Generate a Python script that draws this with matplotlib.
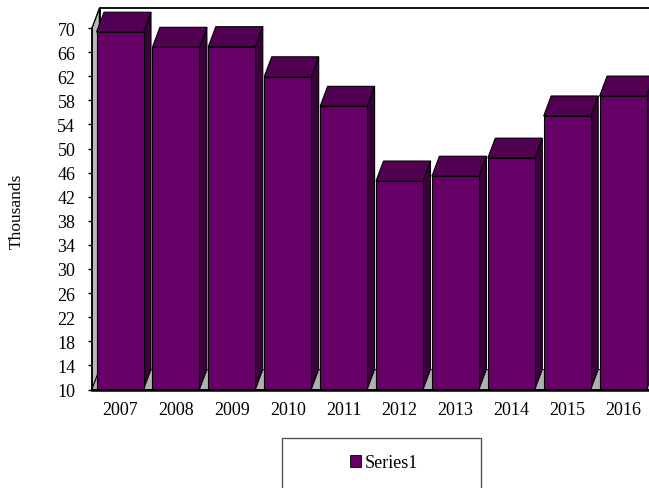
import matplotlib
matplotlib.use("Agg")
import matplotlib.pyplot as plt
from matplotlib.patches import Patch, Rectangle

plt.rcParams['font.family'] = ['Liberation Serif', 'DejaVu Serif']

years = ["2007", "2008", "2009", "2010", "2011", "2012", "2013", "2014", "2015", "2016"]
values = [69.3, 66.8, 66.9, 61.9, 57.0, 44.6, 45.4, 48.4, 55.4, 58.7]
yticks = list(range(10, 71, 4))
series_name = "Series1"

front_col = "#660066"
top_col = "#520052"
side_col = "#3b003b"
wall_col = "#b8b8b8"

W, H = 649, 489
fig = plt.figure(figsize=(W / 100, H / 100), dpi=100)
ax_l, ax_r, ax_t, ax_b = 92, 649, 29, 390.5
ax = fig.add_axes([ax_l / W, (H - ax_b) / H, (ax_r - ax_l) / W, (ax_b - ax_t) / H])

# pixel scale of the axes, used to turn the 3d depth into data units
cat_px = 55.9
xmin = -(120 - ax_l) / cat_px
xmax = xmin + (ax_r - ax_l) / cat_px
ymin, ymax = 10, 70
val_px = (ax_b - ax_t) / (ymax - ymin)
ax.set_xlim(xmin, xmax)
ax.set_ylim(ymin, ymax)

ddx = 7.5 / cat_px
ddy = 20 / val_px
bw = 47 / cat_px

# back wall, left wall and floor
ax.fill([xmin + ddx, xmax + 1, xmax + 1, xmin + ddx],
        [ymin + ddy, ymin + ddy, ymax + ddy, ymax + ddy],
        facecolor="white", edgecolor="black", lw=1.3, clip_on=False, zorder=1)
ax.fill([xmin, xmin, xmin + ddx, xmin + ddx],
        [ymin, ymax, ymax + ddy, ymin + ddy],
        facecolor=wall_col, edgecolor="black", lw=1.0, clip_on=False, zorder=1.5)
ax.fill([xmin, xmax + 1, xmax + 1 + ddx, xmin + ddx],
        [ymin, ymin, ymin + ddy, ymin + ddy],
        facecolor="#b0b0b0", edgecolor="black", lw=0.6, clip_on=False, zorder=1.5)

# tops and right-hand sides of the columns
for i, v in enumerate(values):
    l, r = i - bw / 2, i + bw / 2
    ax.fill([r, r, r + ddx, r + ddx], [ymin, v, v + ddy, ymin + ddy],
            facecolor=side_col, edgecolor="black", lw=0.8, clip_on=False, zorder=2)
    ax.fill([l, r, r + ddx, l + ddx], [v, v, v + ddy, v + ddy],
            facecolor=top_col, edgecolor="black", lw=0.8, clip_on=False, zorder=2)

ax.bar(range(len(values)), [v - ymin for v in values], bottom=ymin, width=bw,
       color=front_col, edgecolor="black", lw=0.8, clip_on=False, zorder=3)

for s in ["top", "right"]:
    ax.spines[s].set_visible(False)
ax.spines["left"].set_linewidth(1.2)
ax.spines["bottom"].set_linewidth(1.8)
ax.spines["left"].set_zorder(4)
ax.spines["bottom"].set_zorder(4)
ax.patch.set_visible(False)

ax.set_yticks(yticks)
ax.set_xticks(range(len(years)))
ax.set_xticklabels(years)
ax.tick_params(axis="y", direction="out", length=3, width=1, pad=9, labelsize=13)
ax.tick_params(axis="x", length=0, pad=8, labelsize=13)

fig.text(17 / W, 1 - 211 / H, "Thousands", rotation=90, ha="center", va="center", fontsize=12.5)

# legend box runs off the bottom of the figure
fig.patches.append(Rectangle((282 / W, (H - 525) / H), 199 / W, 86 / H,
                             transform=fig.transFigure, facecolor="none",
                             edgecolor="#555555", lw=1.0))
leg = ax.legend(handles=[Patch(facecolor=front_col, edgecolor="black", lw=0.6, label=series_name)],
                loc="center", bbox_to_anchor=(384 / W, 1 - 464 / H), bbox_transform=fig.transFigure,
                frameon=False, fontsize=13, handlelength=0.6, handleheight=0.6,
                handletextpad=0.2, borderpad=0, borderaxespad=0)

fig.savefig("out.png", dpi=100)
